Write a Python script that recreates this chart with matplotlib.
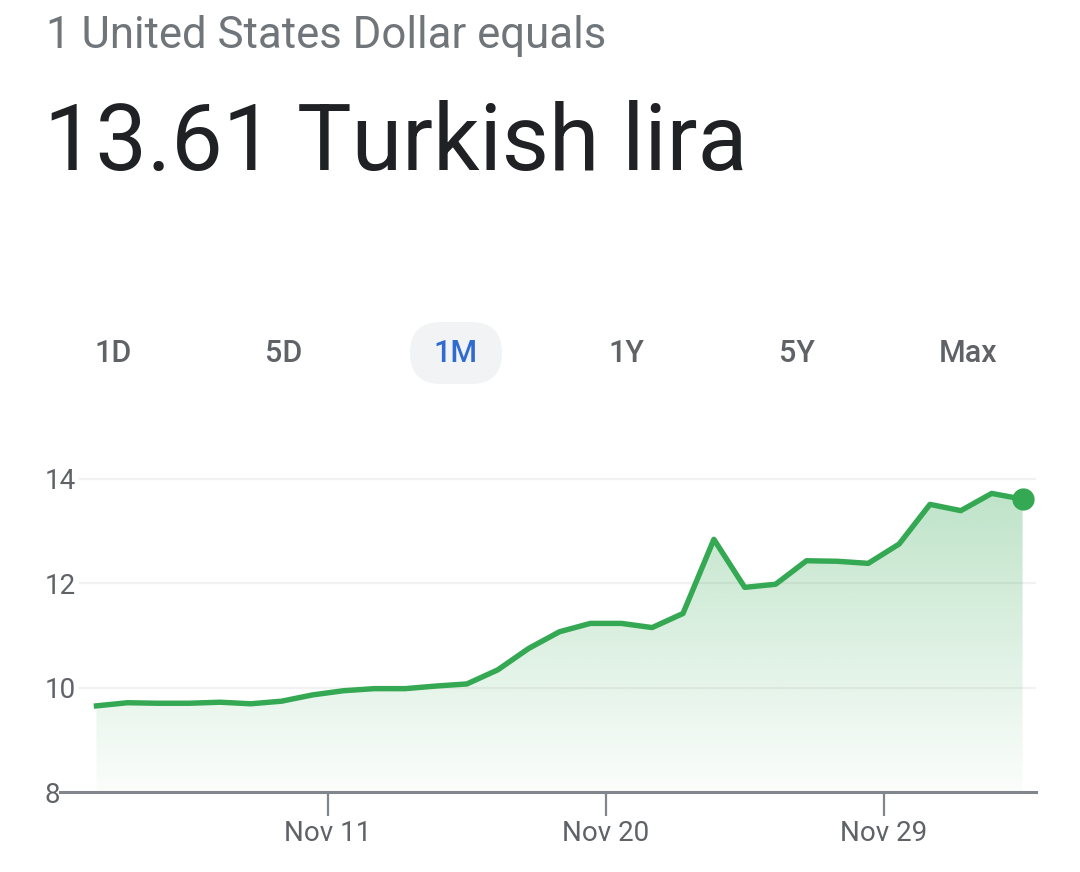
import matplotlib
matplotlib.use('Agg')
import matplotlib.pyplot as plt
import matplotlib.dates as mdates
from matplotlib.patches import FancyBboxPatch, Polygon
from matplotlib.colors import to_rgb
from matplotlib.transforms import blended_transform_factory
import numpy as np
from datetime import datetime, timedelta

plt.rcParams['font.family'] = ['Roboto', 'DejaVu Sans']

# USD -> TRY, one month of daily closes
start = datetime(2021, 11, 3, 12)
dates = [start + timedelta(days=i) for i in range(31)]
rates = [9.65, 9.71, 9.70, 9.70, 9.72, 9.69, 9.74, 9.86, 9.94, 9.98,
         9.98, 10.03, 10.07, 10.34, 10.75, 11.07, 11.23, 11.23, 11.15, 11.42,
         12.84, 11.92, 11.98, 12.43, 12.42, 12.38, 12.75, 13.51, 13.39, 13.72,
         13.61]
tick_dates = [datetime(2021, 11, 11), datetime(2021, 11, 20), datetime(2021, 11, 29)]
tick_labels = ['Nov 11', 'Nov 20', 'Nov 29']
y_ticks = [8, 10, 12, 14]
ranges = ['1D', '5D', '1M', '1Y', '5Y', 'Max']
selected = '1M'

green = '#34a853'
grey_txt = '#5f6368'

fig = plt.figure(figsize=(10.8, 8.72), dpi=100)

# background layer in pixel coords for header + range buttons
bg = fig.add_axes([0, 0, 1, 1], zorder=0)
bg.set_xlim(0, 1080)
bg.set_ylim(872, 0)
bg.axis('off')

bg.text(46, 48, '1 United States Dollar equals', fontsize=31.5, color='#70757a', va='baseline')
bg.text(44, 170, '13.61 Turkish lira', fontsize=66, color='#202124', va='baseline')

for i, r in enumerate(ranges):
    cx = 113 + i * 171
    if r == selected:
        bg.add_patch(FancyBboxPatch((410, 322), 92, 62,
                                    boxstyle='round,pad=0,rounding_size=31',
                                    facecolor='#f1f3f4', edgecolor='none'))
        col = '#2f6bd0'
    else:
        col = grey_txt
    bg.text(cx, 362, r, fontsize=22, color=col, ha='center', va='baseline', fontweight='medium')

# chart
ax = fig.add_axes([60 / 1080, 80 / 872, 976 / 1080, 334 / 872], zorder=1)
ax.patch.set_alpha(0)
x = mdates.date2num(dates)
x0 = mdates.date2num(tick_dates[0])

# gradient fill under the line
n = 256
rgba = np.zeros((n, 1, 4))
rgba[..., :3] = to_rgb(green)
rgba[:, 0, 3] = np.linspace(0.02, 0.33, n)
im = ax.imshow(rgba, extent=[x[0], x[-1], 8, 14], origin='lower', aspect='auto', zorder=1)
verts = np.column_stack([np.r_[x, x[::-1]], np.r_[rates, [8] * len(x)]])
clip = Polygon(verts, closed=True, facecolor='none', edgecolor='none', transform=ax.transData)
ax.add_patch(clip)
im.set_clip_path(clip)

ax.plot(x, rates, color=green, lw=3.9, zorder=3, solid_joinstyle='round')
ax.plot(x[-1], rates[-1], 'o', ms=15, color=green, zorder=4)

for v in y_ticks[1:]:
    ax.axhline(v, xmin=20 / 976, xmax=1, color='#f1f1f1', lw=1.6, zorder=0)

ax.set_xlim(x0 - 268 / 30.87, x0 + 708 / 30.87)
ax.set_ylim(8, 8 + 334 / 52.2)

for s in ['top', 'left', 'right']:
    ax.spines[s].set_visible(False)
ax.spines['bottom'].set_color('#80868b')
ax.spines['bottom'].set_linewidth(2.2)

ax.set_xticks(mdates.date2num(tick_dates))
ax.set_xticklabels(tick_labels)
ax.tick_params(axis='x', length=17, width=1.6, color='#80868b', labelsize=20,
               labelcolor=grey_txt, pad=3)
ax.set_yticks([])

trans = blended_transform_factory(fig.transFigure, ax.transData)
for v in y_ticks:
    ax.text(45 / 1080, v, str(v), transform=trans, fontsize=20, color=grey_txt,
            ha='left', va='center_baseline', clip_on=False)

fig.savefig('out.png', dpi=100)
